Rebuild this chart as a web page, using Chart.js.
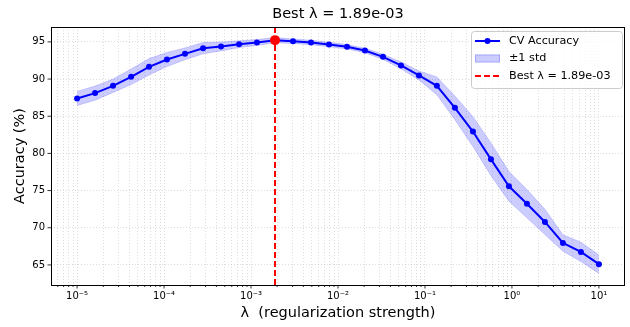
<!DOCTYPE html>
<html>
<head>
<meta charset="utf-8">
<title>CV accuracy vs lambda</title>
<script src="https://cdn.jsdelivr.net/npm/chart.js@4.4.0/dist/chart.umd.min.js"></script>
<style>
  html, body { margin: 0; padding: 0; background: #fff; }
  #wrap { width: 630px; height: 327px; }
</style>
</head>
<body>
<div id="wrap"><canvas id="cvChart" width="630" height="327"></canvas></div>
<script>
// regularization strengths (log-spaced grid, 30 values)
const lambdas = [
  1.00e-5, 1.61e-5, 2.59e-5, 4.18e-5, 6.72e-5, 1.08e-4, 1.74e-4, 2.81e-4, 4.52e-4, 7.28e-4,
  1.17e-3, 1.887e-3, 3.04e-3, 4.89e-3, 7.88e-3, 1.27e-2, 2.04e-2, 3.29e-2, 5.30e-2, 8.53e-2,
  0.137, 0.221, 0.356, 0.574, 0.924, 1.487, 2.395, 3.857, 6.210, 10.0
];
// mean cross-validation accuracy (%)
const cvAccuracy = [
  87.39, 88.11, 89.09, 90.30, 91.65, 92.63, 93.39, 94.15, 94.38, 94.69,
  94.92, 95.23, 95.09, 94.92, 94.65, 94.33, 93.84, 92.99, 91.83, 90.48,
  89.09, 86.13, 82.94, 79.20, 75.57, 73.23, 70.78, 67.95, 66.75, 65.10
];
// standard deviation across folds
const cvStd = [
  0.95, 0.95, 0.90, 1.05, 1.10, 0.95, 0.80, 0.75, 0.60, 0.45,
  0.40, 0.35, 0.30, 0.30, 0.30, 0.30, 0.30, 0.35, 0.45, 0.60,
  1.20, 1.60, 2.00, 2.20, 2.00, 1.90, 1.70, 1.10, 1.30, 1.25
];
const xMajorTicks = [1e-5, 1e-4, 1e-3, 1e-2, 1e-1, 1, 10];
const xTickLabels = ['10⁻⁵', '10⁻⁴', '10⁻³', '10⁻²', '10⁻¹', '10⁰', '10¹'];
const yTicks = [65, 70, 75, 80, 85, 90, 95];

const FONT = "'DejaVu Sans', sans-serif";
const BLUE = '#0000ff';
const RED = '#ff0000';
const BAND = 'rgba(0, 0, 255, 0.2)';

// axis limits: 5% margin on the log range, y from the band extent
const xMin = Math.pow(10, -5.3);
const xMax = Math.pow(10, 1.3);
const yMin = 62.3;
const yMax = 97.0;

// every 1..9 x 10^n inside the x range, used for the minor grid
const xGridValues = [];
for (let e = -6; e <= 1; e++) {
  for (let m = 1; m <= 9; m++) {
    const v = m * Math.pow(10, e);
    if (v >= xMin && v <= xMax) xGridValues.push(v);
  }
}
const isMajor = v => xMajorTicks.some(t => Math.abs(Math.log10(t) - Math.log10(v)) < 1e-6);

function fmtExp(v) {
  const [m, e] = v.toExponential(2).split('e');
  const n = parseInt(e, 10);
  return m + 'e' + (n < 0 ? '-' : '+') + String(Math.abs(n)).padStart(2, '0');
}

const bestIdx = cvAccuracy.indexOf(Math.max(...cvAccuracy));
const bestLambda = lambdas[bestIdx];
const bestLabel = 'Best λ = ' + fmtExp(bestLambda);

const meanPts = lambdas.map((l, i) => ({ x: l, y: cvAccuracy[i] }));
const upperPts = lambdas.map((l, i) => ({ x: l, y: cvAccuracy[i] + cvStd[i] }));
const lowerPts = lambdas.map((l, i) => ({ x: l, y: cvAccuracy[i] - cvStd[i] }));

// dashed marker at the best lambda, drawn just under the best point
const bestLinePlugin = {
  id: 'bestLine',
  beforeDatasetDraw(chart, args) {
    if (args.index !== 0) return;
    const { ctx, chartArea } = chart;
    const x = chart.scales.x.getPixelForValue(bestLambda);
    ctx.save();
    ctx.strokeStyle = RED;
    ctx.lineWidth = 2;
    ctx.setLineDash([6, 3]);
    ctx.beginPath();
    ctx.moveTo(x, chartArea.top);
    ctx.lineTo(x, chartArea.bottom);
    ctx.stroke();
    ctx.restore();
  }
};

// frame, tick marks, title and legend
const decorPlugin = {
  id: 'decor',
  afterDraw(chart) {
    const { ctx, chartArea: a, scales } = chart;
    ctx.save();

    // spines
    ctx.strokeStyle = '#000';
    ctx.lineWidth = 1;
    ctx.strokeRect(a.left + 0.5, a.top + 0.5, a.right - a.left - 1, a.bottom - a.top);

    // tick marks
    ctx.lineWidth = 0.8;
    ctx.beginPath();
    scales.x.ticks.forEach(t => {
      const x = scales.x.getPixelForValue(t.value);
      const len = isMajor(t.value) ? 3.5 : 2;
      ctx.moveTo(x, a.bottom);
      ctx.lineTo(x, a.bottom + len);
    });
    scales.y.ticks.forEach(t => {
      const y = scales.y.getPixelForValue(t.value);
      ctx.moveTo(a.left, y);
      ctx.lineTo(a.left - 3.5, y);
    });
    ctx.stroke();

    // title
    ctx.fillStyle = '#000';
    ctx.font = '14.5px ' + FONT;
    ctx.textAlign = 'center';
    ctx.textBaseline = 'middle';
    ctx.fillText(bestLabel, (a.left + a.right) / 2, 14.5);

    // legend
    const bx = 471, by = 31, bw = 151, bh = 57;
    ctx.fillStyle = 'rgba(255,255,255,0.8)';
    ctx.strokeStyle = '#cccccc';
    ctx.lineWidth = 1;
    ctx.beginPath();
    ctx.roundRect(bx + 0.5, by + 0.5, bw, bh, 3);
    ctx.fill();
    ctx.stroke();

    const lx0 = 475, lx1 = 500, tx = 509;
    const rows = [41, 58.5, 76];
    // CV Accuracy
    ctx.strokeStyle = BLUE;
    ctx.lineWidth = 2;
    ctx.beginPath();
    ctx.moveTo(lx0, rows[0]);
    ctx.lineTo(lx1, rows[0]);
    ctx.stroke();
    ctx.fillStyle = BLUE;
    ctx.beginPath();
    ctx.arc((lx0 + lx1) / 2, rows[0], 3, 0, Math.PI * 2);
    ctx.fill();
    // std band
    ctx.fillStyle = BAND;
    ctx.strokeStyle = BAND;
    ctx.lineWidth = 1;
    ctx.fillRect(lx0, rows[1] - 4, lx1 - lx0, 8);
    ctx.strokeRect(lx0 + 0.5, rows[1] - 3.5, lx1 - lx0 - 1, 7);
    // best lambda
    ctx.strokeStyle = RED;
    ctx.lineWidth = 2;
    ctx.setLineDash([6, 3]);
    ctx.beginPath();
    ctx.moveTo(lx0, rows[2]);
    ctx.lineTo(lx1, rows[2]);
    ctx.stroke();
    ctx.setLineDash([]);

    ctx.fillStyle = '#000';
    ctx.font = '11.2px ' + FONT;
    ctx.textAlign = 'left';
    ctx.fillText('CV Accuracy', tx, rows[0]);
    ctx.fillText('±1 std', tx, rows[1]);
    ctx.fillText(bestLabel, tx, rows[2]);

    ctx.restore();
  }
};

const ctx = document.getElementById('cvChart').getContext('2d');
new Chart(ctx, {
  type: 'line',
  data: {
    datasets: [
      {
        label: 'best',
        data: [{ x: bestLambda, y: cvAccuracy[bestIdx] }],
        showLine: false,
        pointRadius: 5,
        pointBackgroundColor: RED,
        pointBorderWidth: 0,
        order: 0
      },
      {
        label: 'CV Accuracy',
        data: meanPts,
        borderColor: BLUE,
        borderWidth: 2,
        pointRadius: 3,
        pointBackgroundColor: BLUE,
        pointBorderWidth: 0,
        tension: 0,
        fill: false,
        order: 1
      },
      {
        label: '±1 std',
        data: upperPts,
        borderWidth: 0.8,
        borderColor: BAND,
        backgroundColor: BAND,
        pointRadius: 0,
        fill: '+1',
        tension: 0,
        order: 2
      },
      {
        label: 'lower',
        data: lowerPts,
        borderWidth: 0.8,
        borderColor: BAND,
        pointRadius: 0,
        fill: false,
        tension: 0,
        order: 3
      }
    ]
  },
  options: {
    responsive: false,
    animation: false,
    devicePixelRatio: 1,
    layout: { padding: { top: 27, right: 5, left: 0, bottom: 0 } },
    plugins: {
      legend: { display: false },
      tooltip: { enabled: false },
      filler: { propagate: false }
    },
    scales: {
      x: {
        type: 'logarithmic',
        min: xMin,
        max: xMax,
        afterBuildTicks: s => { s.ticks = xGridValues.map(v => ({ value: v })); },
        afterFit: s => { s.height = 42; },
        ticks: {
          autoSkip: false,
          maxRotation: 0,
          padding: 5,
          color: '#000',
          font: { family: FONT, size: 10 },
          callback: v => {
            const i = xMajorTicks.findIndex(t => Math.abs(Math.log10(t) - Math.log10(v)) < 1e-6);
            return i >= 0 ? xTickLabels[i] : '';
          }
        },
        grid: { color: 'rgba(176,176,176,0.55)', lineWidth: 0.8, drawTicks: false },
        border: { display: false, dash: [1, 2] },
        title: {
          display: true,
          text: 'λ  (regularization strength)',
          color: '#000',
          font: { family: FONT, size: 14.5 },
          padding: { top: 0, bottom: 5 }
        }
      },
      y: {
        min: yMin,
        max: yMax,
        afterBuildTicks: s => { s.ticks = yTicks.map(v => ({ value: v })); },
        afterFit: s => { s.width = 51; },
        ticks: {
          padding: 6,
          color: '#000',
          font: { family: FONT, size: 10 }
        },
        grid: { color: 'rgba(176,176,176,0.55)', lineWidth: 0.8, drawTicks: false },
        border: { display: false, dash: [1, 2] },
        title: {
          display: true,
          text: 'Accuracy (%)',
          color: '#000',
          font: { family: FONT, size: 14.5 },
          padding: { top: 12, bottom: 0 }
        }
      }
    }
  },
  plugins: [bestLinePlugin, decorPlugin]
});
</script>
</body>
</html>
